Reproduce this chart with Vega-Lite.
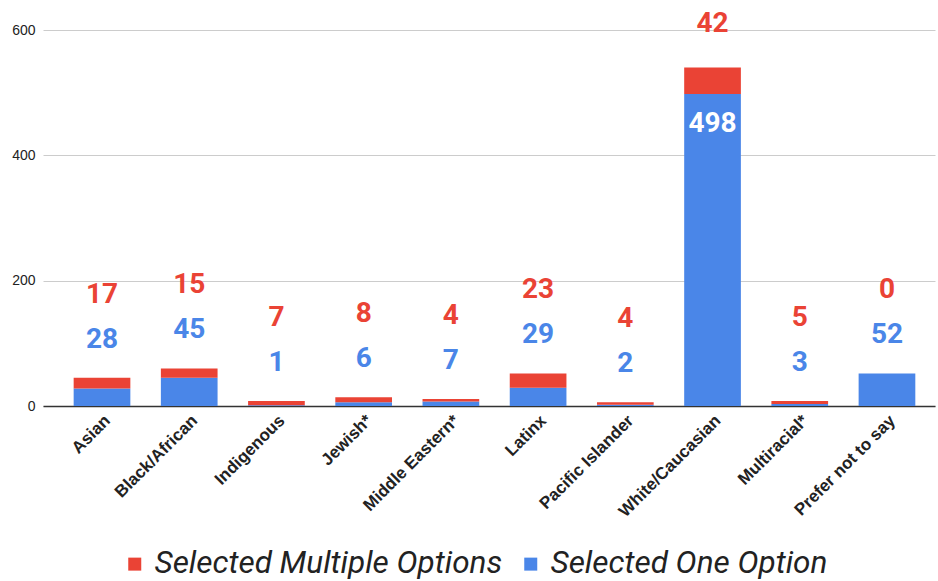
{
  "$schema": "https://vega.github.io/schema/vega-lite/v6.json",
  "autosize": {"type": "none"},
  "padding": {"left": 43, "top": 30, "right": 3, "bottom": 175},
  "width": 892,
  "height": 376,
  "background": "white",
  "config": {
    "view": {"stroke": null},
    "font": "Roboto"
  },
  "data": {
    "values": [
      {"category": "Asian", "series": "Selected One Option", "value": 28},
      {"category": "Asian", "series": "Selected Multiple Options", "value": 17},
      {"category": "Black/African", "series": "Selected One Option", "value": 45},
      {"category": "Black/African", "series": "Selected Multiple Options", "value": 15},
      {"category": "Indigenous", "series": "Selected One Option", "value": 1},
      {"category": "Indigenous", "series": "Selected Multiple Options", "value": 7},
      {"category": "Jewish*", "series": "Selected One Option", "value": 6},
      {"category": "Jewish*", "series": "Selected Multiple Options", "value": 8},
      {"category": "Middle Eastern*", "series": "Selected One Option", "value": 7},
      {"category": "Middle Eastern*", "series": "Selected Multiple Options", "value": 4},
      {"category": "Latinx", "series": "Selected One Option", "value": 29},
      {"category": "Latinx", "series": "Selected Multiple Options", "value": 23},
      {"category": "Pacific Islander", "series": "Selected One Option", "value": 2},
      {"category": "Pacific Islander", "series": "Selected Multiple Options", "value": 4},
      {"category": "White/Caucasian", "series": "Selected One Option", "value": 498},
      {"category": "White/Caucasian", "series": "Selected Multiple Options", "value": 42},
      {"category": "Multiracial*", "series": "Selected One Option", "value": 3},
      {"category": "Multiracial*", "series": "Selected Multiple Options", "value": 5},
      {"category": "Prefer not to say", "series": "Selected One Option", "value": 52},
      {"category": "Prefer not to say", "series": "Selected Multiple Options", "value": 0}
    ]
  },
  "transform": [
    {"joinaggregate": [{"op": "sum", "field": "value", "as": "total"}], "groupby": ["category"]}
  ],
  "encoding": {
    "x": {
      "field": "category",
      "type": "nominal",
      "sort": null,
      "title": null,
      "scale": {"paddingInner": 0.35, "paddingOuter": 0.2886, "align": 0.609},
      "axis": {
        "labelAngle": -45,
        "labelFontWeight": "bold",
        "labelFontSize": 17,
        "labelFont": "Liberation Sans",
        "labelColor": "#222222",
        "ticks": false,
        "domainColor": "#333333",
        "domainWidth": 1.5,
        "labelPadding": 6
      }
    }
  },
  "layer": [
    {
      "mark": {"type": "bar"},
      "encoding": {
        "y": {
          "field": "value",
          "type": "quantitative",
          "stack": "zero",
          "title": null,
          "scale": {"domain": [0, 600]},
          "axis": {
            "values": [0, 200, 400, 600],
            "domain": false,
            "ticks": false,
            "labelFont": "Liberation Sans",
            "labelFontSize": 14,
            "labelColor": "#222222",
            "labelPadding": 8,
            "gridColor": "#cccccc"
          }
        },
        "color": {
          "field": "series",
          "type": "nominal",
          "title": null,
          "scale": {
            "domain": ["Selected Multiple Options", "Selected One Option"],
            "range": ["#ea4335", "#4a86e8"]
          },
          "legend": {
            "orient": "none",
            "direction": "horizontal",
            "legendX": 76,
            "legendY": 518,
            "symbolType": "square",
            "symbolSize": 169,
            "symbolStrokeWidth": 0,
            "labelFont": "Roboto",
            "labelFontStyle": "italic",
            "labelFontSize": 31.5,
            "labelColor": "#222222",
            "labelOffset": 4,
            "columnPadding": 12,
            "labelLimit": 0
          }
        },
        "order": {"field": "series", "sort": "descending"}
      }
    },
    {
      "transform": [{"filter": "datum.series === 'Selected One Option' && datum.category !== 'White/Caucasian'"}],
      "mark": {"type": "text", "fontSize": 28, "fontWeight": "bold", "font": "Roboto", "color": "#4a86e8", "baseline": "middle", "dy": -38},
      "encoding": {
        "y": {"field": "total", "type": "quantitative"},
        "text": {"field": "value", "type": "quantitative"}
      }
    },
    {
      "transform": [{"filter": "datum.series === 'Selected Multiple Options' && datum.category !== 'White/Caucasian'"}],
      "mark": {"type": "text", "fontSize": 28, "fontWeight": "bold", "font": "Roboto", "color": "#ea4335", "baseline": "middle", "dy": -83},
      "encoding": {
        "y": {"field": "total", "type": "quantitative"},
        "text": {"field": "value", "type": "quantitative"}
      }
    },
    {
      "transform": [{"filter": "datum.series === 'Selected One Option' && datum.category === 'White/Caucasian'"}],
      "mark": {"type": "text", "fontSize": 28, "fontWeight": "bold", "font": "Roboto", "color": "#ffffff", "baseline": "middle", "dy": 30},
      "encoding": {
        "y": {"field": "value", "type": "quantitative"},
        "text": {"field": "value", "type": "quantitative"}
      }
    },
    {
      "transform": [{"filter": "datum.series === 'Selected Multiple Options' && datum.category === 'White/Caucasian'"}],
      "mark": {"type": "text", "fontSize": 28, "fontWeight": "bold", "font": "Roboto", "color": "#ea4335", "baseline": "middle", "dy": -44},
      "encoding": {
        "y": {"field": "total", "type": "quantitative"},
        "text": {"field": "value", "type": "quantitative"}
      }
    }
  ]
}
